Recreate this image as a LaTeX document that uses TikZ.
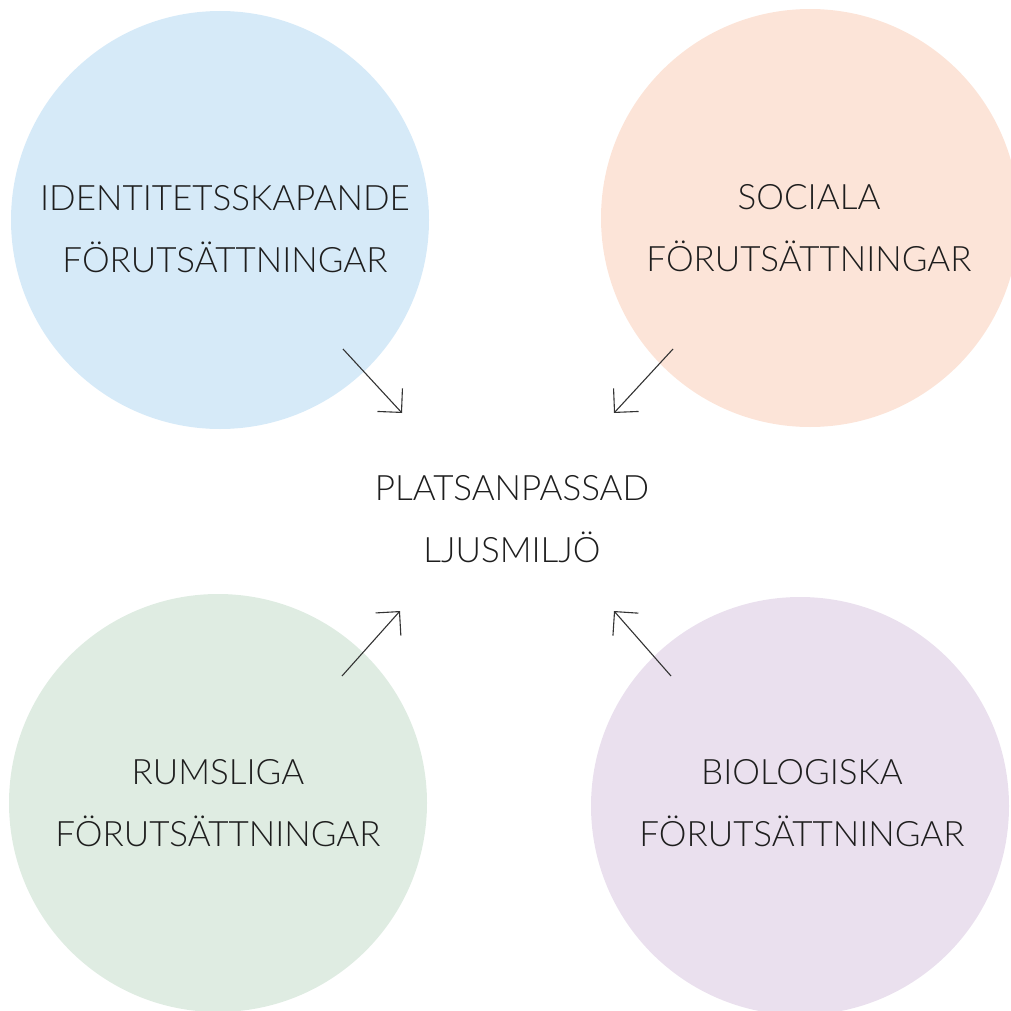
\documentclass[tikz,border=0pt]{standalone}
\usepackage{fontspec}
\setmainfont{Lato Light}
\usetikzlibrary{arrows.meta}
\definecolor{ljusbla}{RGB}{214,234,248}
\definecolor{ljusrosa}{RGB}{252,228,216}
\definecolor{ljusgron}{RGB}{223,236,226}
\definecolor{ljuslila}{RGB}{234,224,238}
\definecolor{textgra}{RGB}{30,30,30}

\begin{document}
\begin{tikzpicture}[x=1pt, y=-1pt,
	every node/.style={font=\fontsize{35}{62}\selectfont, text=textgra, align=center},
	rund/.style={circle, minimum size=418pt, inner sep=0pt},
	pil/.style={draw=black!80, line width=1.1pt, -{Straight Barb[angle=90:24pt, line width=1.1pt]}}]
	\useasboundingbox (0,0) rectangle (1010,1011);
	% cirklarna
	\node[rund, fill=ljusbla] (idn) at (220,220) {};
	\node[rund, fill=ljusrosa] (soc) at (810,218) {};
	\node[rund, fill=ljusgron] (rum) at (218,803) {};
	\node[rund, fill=ljuslila] (bio) at (800,806) {};
	% texter
	\node (idntext) at (225,229) {IDENTITETSSKAPANDE\\FÖRUTSÄTTNINGAR};
	\node (soctext) at (809,228) {SOCIALA\\FÖRUTSÄTTNINGAR};
	\node (rumtext) at (218,803) {RUMSLIGA\\FÖRUTSÄTTNINGAR};
	\node (biotext) at (802,803) {BIOLOGISKA\\FÖRUTSÄTTNINGAR};
	\node (mal) at (512,519) {PLATSANPASSAD\\LJUSMILJÖ};
	% pilar
	\coordinate (a1) at (343,349); \coordinate (b1) at (402,413);
	\coordinate (a2) at (673,349); \coordinate (b2) at (614,413);
	\coordinate (a3) at (342,676); \coordinate (b3) at (400,611);
	\coordinate (a4) at (671,676); \coordinate (b4) at (614,611);
	\foreach \i in {1,...,4} \draw[pil] (a\i) -- (b\i);
\end{tikzpicture}
\end{document}
